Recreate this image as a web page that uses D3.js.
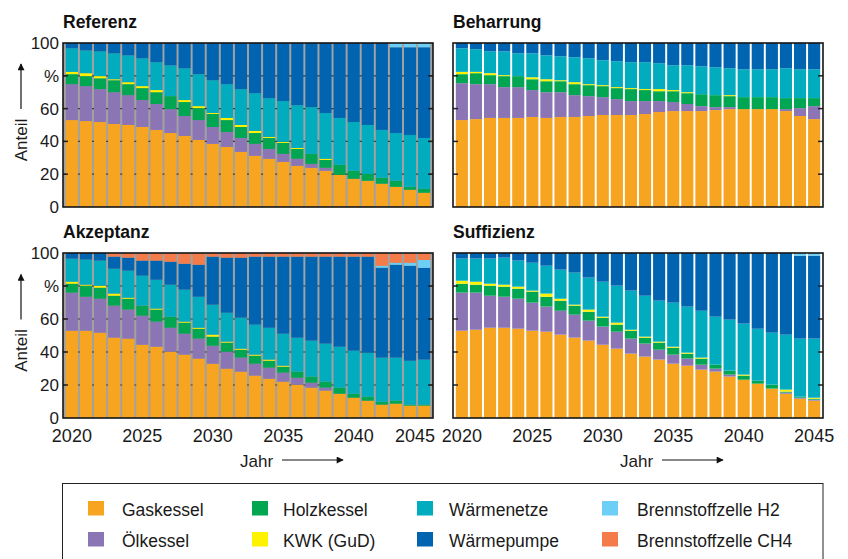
<!DOCTYPE html>
<html>
<head>
<meta charset="utf-8">
<script src="https://cdn.jsdelivr.net/npm/d3@7/dist/d3.min.js"></script>
<style>
  body { margin: 0; background: #fff; }
  svg { display: block; font-family: "Liberation Sans", Arial, sans-serif; }
</style>
</head>
<body>
<svg id="chart" width="848" height="559"></svg>
<script>
// Years on the x axis
const years = [2020, 2021, 2022, 2023, 2024, 2025, 2026, 2027, 2028, 2029, 2030, 2031, 2032,
               2033, 2034, 2035, 2036, 2037, 2038, 2039, 2040, 2041, 2042, 2043, 2044, 2045];
const xTickYears = [2020, 2025, 2030, 2035, 2040, 2045];
const yTickValues = [0, 20, 40, 60, 80, 100];
const yTickLabels = ["0", "20", "40", "60", "%", "100"];

// Heating technologies, stacked bottom to top
const seriesNames = ["Gaskessel", "Ölkessel", "Holzkessel", "KWK (GuD)",
                     "Wärmenetze", "Wärmepumpe", "Brennstoffzelle H2", "Brennstoffzelle CH4"];
const seriesColors = ["#F7A520", "#8B75B5", "#00A651", "#FFF200",
                      "#00ACBE", "#0064B1", "#6DCFF6", "#F47C4B"];

// Scenario "Referenz" (share in %)
const refGas  = [53.0,52.4,51.8,50.6,50.0,48.8,47.0,45.1,43.3,40.9,38.5,36.6,33.6,31.2,29.4,27.5,25.1,23.9,22.1,19.6,17.2,16.0,14.2,12.3,10.5,8.7];
const refOel  = [21.9,21.3,20.1,19.4,18.2,16.4,15.8,14.6,12.2,12.1,10.3,9.1,8.5,7.3,6.0,4.9,4.3,2.4,1.8,0,0,0,0,0,0,0];
const refHolz = [6.1,6.1,6.6,7.3,6.7,7.3,7.2,7.9,8.5,7.3,7.9,7.3,6.7,6.6,6.7,6.7,6.0,6.1,4.8,6.1,4.9,4.2,3.6,3.7,1.8,2.4];
const refKwk  = [1.4,1.8,1.3,0.6,1.2,1.2,1.3,0,1.2,1.2,0.6,1.3,1.2,1.3,0.6,0.6,0.6,0,0.7,0,0,0,0,0,0,0];
const refNetz = [14.4,13.9,15.1,15.8,16.4,17.0,17.0,18.8,19.4,19.5,20.0,20.6,21.9,23.0,23.7,24.9,26.1,28.5,27.9,28.6,29.7,29.8,29.2,29.1,31.6,31.0];
const refWp   = [3.2,4.5,5.1,6.3,7.5,9.3,11.7,13.6,15.4,19.0,22.7,25.1,28.1,30.6,33.6,35.4,37.9,39.1,42.7,45.7,48.2,50.0,53.0,52.3,53.5,55.3];
const refH2   = [0,0,0,0,0,0,0,0,0,0,0,0,0,0,0,0,0,0,0,0,0,0,0,2.6,2.6,2.6];
const refCh4  = [0,0,0,0,0,0,0,0,0,0,0,0,0,0,0,0,0,0,0,0,0,0,0,0,0,0];

// Scenario "Beharrung"
const behGas  = [53.0,53.6,54.3,54.3,54.3,54.9,54.3,54.9,54.9,55.5,56.1,56.1,56.1,56.7,57.9,58.5,58.5,58.5,59.1,59.7,59.7,59.7,59.7,58.5,55.5,53.6];
const behOel  = [22.5,21.3,20.6,18.8,18.8,16.4,15.7,15.1,13.3,12.1,10.9,9.7,8.5,7.9,6.7,5.5,4.3,3.0,1.8,1.2,0,0,0,1.2,4.8,7.9];
const behHolz = [5.5,6.7,5.5,6.7,6.7,6.6,6.7,6.7,6.7,6.7,6.7,6.7,7.3,6.7,6.0,6.6,6.6,7.3,7.3,6.7,7.3,7.3,7.3,6.7,6.1,4.9];
const behKwk  = [1.4,0.8,1.2,0.6,0,1.2,1.2,0.6,1.2,0.6,0.6,0.6,0.6,0.6,1.3,0.7,0.6,0,0,0.6,0,0,0,0,0,0];
const behNetz = [14.4,13.8,13.3,14.5,13.9,14.6,14.6,14.6,15.2,15.8,15.2,15.8,15.8,16.4,15.8,15.1,16.4,17.0,17.0,16.4,17.0,17.0,17.0,18.2,17.6,17.6];
const behWp   = [3.2,3.8,5.1,5.1,6.3,6.3,7.5,8.1,8.7,9.3,10.5,11.1,11.7,11.7,12.3,13.6,13.6,14.2,14.8,15.4,16.0,16.0,16.0,15.4,16.0,16.0];
const behH2   = [0,0,0,0,0,0,0,0,0,0,0,0,0,0,0,0,0,0,0,0,0,0,0,0,0,0];
const behCh4  = [0,0,0,0,0,0,0,0,0,0,0,0,0,0,0,0,0,0,0,0,0,0,0,0,0,0];

// Scenario "Akzeptanz"
const akzGas  = [52.9,52.9,51.7,48.7,48.1,44.4,43.2,40.2,38.4,36.0,32.9,29.9,28.1,25.7,23.8,22.0,20.2,18.4,16.6,14.7,12.3,10.5,8.1,8.7,7.5,7.5];
const akzOel  = [23.1,20.6,20.6,19.4,17.6,17.6,15.2,14.5,12.7,12.1,10.9,10.3,8.5,7.2,6.7,5.5,4.2,3.0,1.8,0,0,0,0,0,0,0];
const akzHolz = [5.4,6.7,6.7,6.0,6.6,6.1,7.3,6.7,6.7,6.0,5.5,5.5,4.8,4.9,4.2,3.6,3.7,3.7,3.6,3.7,2.4,2.4,1.8,1.8,0.6,0.6];
const akzKwk  = [1.2,0.6,1.2,1.3,0.6,0,0.6,0,0.6,0.6,1.2,0.6,0.6,0.6,0.7,0.6,0,0,0,0,0,0,0,0,0,0];
const akzNetz = [14.0,15.2,15.2,15.1,16.4,18.2,17.5,19.4,19.4,18.8,18.2,17.5,18.8,18.2,19.3,19.4,20.6,21.8,23.1,24.8,26.1,26.7,26.7,26.1,26.6,27.3];
const akzWp   = [3.4,4.0,4.6,7.3,7.9,9.1,11.6,13.9,15.7,19.4,29.1,33.4,36.4,41.2,43.1,46.7,49.1,50.9,52.7,54.6,57.0,58.2,54.5,56.3,57.6,55.6];
const akzH2   = [0,0,0,0,0,0,0,0,0,0,0,0,0,0,0,0,0,0,0,0,0,0,1.2,1.2,1.8,4.8];
const akzCh4  = [0,0,0,2.2,2.8,4.6,4.6,5.3,6.5,7.1,2.2,2.8,2.8,2.2,2.2,2.2,2.2,2.2,2.2,2.2,2.2,2.2,7.7,5.9,5.9,4.2];

// Scenario "Suffizienz"
const sufGas  = [52.9,53.5,54.7,54.7,54.1,52.9,52.3,50.5,48.7,46.9,44.4,42.0,39.0,37.2,35.4,32.9,31.7,29.3,28.1,25.1,23.2,20.8,17.8,14.7,11.7,10.5];
const sufOel  = [23.1,22.5,19.4,18.8,18.2,17.0,15.2,14.5,13.9,12.1,11.0,10.3,9.1,7.9,6.0,5.5,4.3,3.0,1.8,1.2,0,0,0,0.7,0.6,0.6];
const sufHolz = [5.4,4.8,6.1,6.1,6.1,6.7,6.0,6.1,5.5,5.4,5.4,4.3,4.8,3.6,4.3,4.2,3.0,3.7,2.4,2.4,2.5,1.8,2.4,0.6,0.6,0.6];
const sufKwk  = [1.8,1.8,1.2,1.2,1.2,0.6,1.9,1.2,0.6,1.3,0.6,1.2,0.6,0.6,0.6,0.6,0.6,0.6,0,0,0.6,0,0,1.2,0,0.6];
const sufNetz = [13.4,14.0,15.2,16.4,15.8,16.9,16.9,17.6,19.4,19.4,21.2,22.4,23.7,24.8,24.8,26.7,27.9,28.4,29.1,30.9,30.9,31.5,31.5,33.3,35.2,35.8];
const sufWp   = [3.4,3.4,3.4,2.8,4.6,5.9,7.7,10.1,11.9,14.9,17.4,19.8,22.8,25.9,28.9,30.1,32.5,35.0,38.6,40.4,42.8,45.9,48.3,49.5,50.3,50.3];
const sufH2   = [0,0,0,0,0,0,0,0,0,0,0,0,0,0,0,0,0,0,0,0,0,0,0,0,1.6,1.6];
const sufCh4  = [0,0,0,0,0,0,0,0,0,0,0,0,0,0,0,0,0,0,0,0,0,0,0,0,0,0];

const scenarios = [
  { title: "Referenz",   series: [refGas, refOel, refHolz, refKwk, refNetz, refWp, refH2, refCh4], col: 0, row: 0 },
  { title: "Beharrung",  series: [behGas, behOel, behHolz, behKwk, behNetz, behWp, behH2, behCh4], col: 1, row: 0 },
  { title: "Akzeptanz",  series: [akzGas, akzOel, akzHolz, akzKwk, akzNetz, akzWp, akzH2, akzCh4], col: 0, row: 1 },
  { title: "Suffizienz", series: [sufGas, sufOel, sufHolz, sufKwk, sufNetz, sufWp, sufH2, sufCh4], col: 1, row: 1 }
];

const svg = d3.select("#chart");
svg.append("rect").attr("width", 848).attr("height", 559).attr("fill", "#fff");

const defs = svg.append("defs");
defs.append("marker")
  .attr("id", "arrowhead").attr("viewBox", "0 0 10 10")
  .attr("refX", 9).attr("refY", 5).attr("markerWidth", 9).attr("markerHeight", 7)
  .attr("markerUnits", "userSpaceOnUse").attr("orient", "auto")
  .append("path").attr("d", "M0,0 L10,5 L0,10 Z").attr("fill", "#111");

const colX = [63, 453];
const rowY = [43, 253];
const plotW = 370;
const plotH = [164, 165];

const stack = d3.stack().keys(seriesNames);

scenarios.forEach(sc => {
  const x0 = colX[sc.col], y0 = rowY[sc.row], h = plotH[sc.row];
  const x1 = x0 + plotW, y1 = y0 + h;

  const x = d3.scaleBand().domain(years).range([x0, x1]).paddingInner(0.14).paddingOuter(0.2);
  const y = d3.scaleLinear().domain([0, 100]).range([y1, y0]);

  const rows = years.map((yr, i) => {
    const r = { year: yr };
    seriesNames.forEach((k, j) => { r[k] = sc.series[j][i]; });
    return r;
  });
  const layers = stack(rows);

  const g = svg.append("g");

  // plot background: grey in the left column, white in the right one
  if (sc.col === 0) {
    g.append("rect").attr("x", x0).attr("y", y0).attr("width", plotW).attr("height", h)
      .attr("fill", "#a2a2a2");
    g.selectAll("line.grid").data([20, 40, 60, 80]).join("line")
      .attr("x1", x0).attr("x2", x1).attr("y1", d => y(d)).attr("y2", d => y(d))
      .attr("stroke", "#3a3a3a").attr("stroke-width", 1.2);
  }

  // stacked bars
  g.selectAll("g.layer").data(layers).join("g")
    .attr("fill", (d, i) => seriesColors[i])
    .selectAll("rect")
    .data(d => d.filter(p => p[1] - p[0] > 0))
    .join("rect")
    .attr("x", d => x(d.data.year))
    .attr("width", x.bandwidth())
    .attr("y", d => y(d[1]))
    .attr("height", d => y(d[0]) - y(d[1]));

  // inward ticks on both sides
  const inner = [20, 40, 60, 80];
  g.selectAll("line.tl").data(inner).join("line")
    .attr("x1", x0).attr("x2", x0 + 5).attr("y1", d => y(d)).attr("y2", d => y(d))
    .attr("stroke", "#222").attr("stroke-width", 1.5);
  g.selectAll("line.tr").data(inner).join("line")
    .attr("x1", x1 - 5).attr("x2", x1).attr("y1", d => y(d)).attr("y2", d => y(d))
    .attr("stroke", "#222").attr("stroke-width", 1.5);

  // frame
  g.append("rect").attr("x", x0).attr("y", y0).attr("width", plotW).attr("height", h)
    .attr("fill", "none").attr("stroke", "#151515").attr("stroke-width", 1.6);

  // title
  svg.append("text").attr("x", x0).attr("y", y0 - 15)
    .attr("font-size", 17.5).attr("font-weight", "bold").attr("fill", "#111")
    .text(sc.title);

  // y axis (left column only)
  if (sc.col === 0) {
    const ya = svg.append("g").attr("transform", `translate(${x0},0)`)
      .call(d3.axisLeft(y).tickValues(yTickValues)
        .tickFormat((d, i) => yTickLabels[i]).tickSize(0).tickPadding(4));
    ya.select(".domain").remove();
    ya.selectAll("text").attr("font-size", 17).attr("fill", "#1a1a1a")
      .attr("font-family", "'Liberation Sans', Arial, sans-serif");

    const cy = (y0 + y1) / 2 + 15;
    svg.append("text")
      .attr("transform", `translate(27,${cy}) rotate(-90)`)
      .attr("text-anchor", "middle").attr("font-size", 17).attr("fill", "#1a1a1a")
      .text("Anteil");
    svg.append("line")
      .attr("x1", 21).attr("x2", 21).attr("y1", cy - 31).attr("y2", cy - 76)
      .attr("stroke", "#111").attr("stroke-width", 1.2)
      .attr("marker-end", "url(#arrowhead)");
  }

  // x axis (bottom row only)
  if (sc.row === 1) {
    const xa = svg.append("g").attr("transform", `translate(0,${y1})`)
      .call(d3.axisBottom(x).tickValues(xTickYears).tickSize(0).tickPadding(11));
    xa.select(".domain").remove();
    xa.selectAll("text").attr("font-size", 18).attr("fill", "#1a1a1a")
      .attr("font-family", "'Liberation Sans', Arial, sans-serif");
    if (sc.col === 0) {
      // keep the last year label clear of the neighbouring panel
      xa.selectAll(".tick").filter(d => d === 2045).select("text")
        .attr("text-anchor", "end")
        .attr("x", x1 + 2 - (x(2045) + x.bandwidth() / 2));
    }
    const jx = sc.col === 0 ? 240 : 620;
    svg.append("text").attr("x", jx).attr("y", 467)
      .attr("font-size", 17).attr("fill", "#1a1a1a").text("Jahr");
    svg.append("line")
      .attr("x1", jx + 42).attr("x2", jx + 103).attr("y1", 460).attr("y2", 460)
      .attr("stroke", "#111").attr("stroke-width", 1.2)
      .attr("marker-end", "url(#arrowhead)");
  }
});

// legend (frame runs past the lower edge of the canvas)
const legend = svg.append("g");
legend.append("rect").attr("x", 62.5).attr("y", 483.5).attr("width", 760.5).attr("height", 82)
  .attr("fill", "#fff").attr("stroke", "#222").attr("stroke-width", 1);
const swatchX = [88, 252, 417, 602];
const labelX = [122, 283, 449, 637];
const rowTop = [501, 532];
seriesNames.forEach((name, i) => {
  const c = Math.floor(i / 2), r = i % 2;
  legend.append("rect").attr("x", swatchX[c]).attr("y", rowTop[r])
    .attr("width", 16).attr("height", 14.5).attr("fill", seriesColors[i]);
  legend.append("text").attr("x", labelX[c]).attr("y", rowTop[r] + 14.8)
    .attr("font-size", 17.5).attr("fill", "#1a1a1a").text(name);
});
</script>
</body>
</html>
